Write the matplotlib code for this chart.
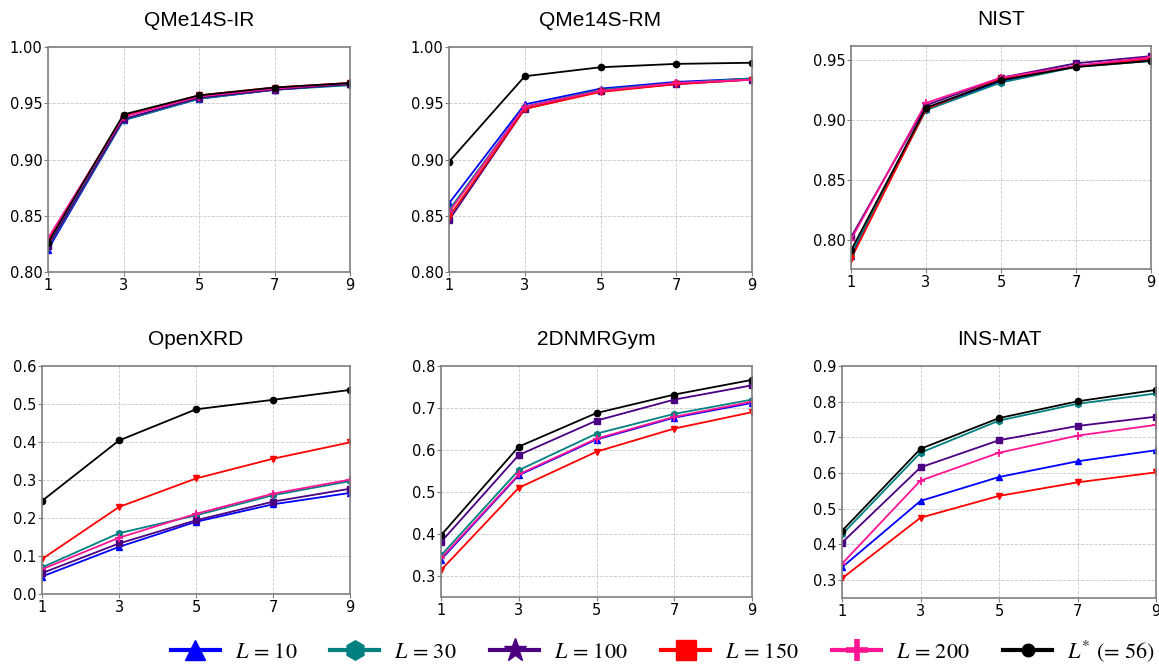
import matplotlib
matplotlib.use("Agg")
import matplotlib.pyplot as plt
from matplotlib.lines import Line2D

plt.rcParams['mathtext.fontset'] = 'stix'

x_vals = [1, 3, 5, 7, 9]
titles = ["QMe14S-IR", "QMe14S-RM", "NIST", "OpenXRD", "2DNMRGym", "INS-MAT"]
series_labels = [r"$L$ = 10", r"$L$ = 30", r"$L$ = 100", r"$L$ = 150", r"$L$ = 200", r"$L^{*}$ (= 56)"]
colors = ["#0000FF", "#008080", "#4B0082", "#FF0000", "#FF1493", "#000000"]
plot_markers = ["^", "h", "s", "v", "+", "o"]
legend_markers = ["^", "h", "*", "s", "+", "o"]

# values per dataset: [L=10, L=30, L=100, L=150, L=200, L*]
qme_ir = [
    [0.820, 0.935, 0.954, 0.962, 0.967],
    [0.822, 0.935, 0.954, 0.962, 0.966],
    [0.823, 0.936, 0.955, 0.962, 0.967],
    [0.828, 0.939, 0.957, 0.964, 0.968],
    [0.830, 0.938, 0.956, 0.963, 0.968],
    [0.826, 0.940, 0.957, 0.964, 0.968],
]
qme_rm = [
    [0.861, 0.949, 0.963, 0.969, 0.972],
    [0.855, 0.947, 0.962, 0.968, 0.972],
    [0.846, 0.945, 0.961, 0.967, 0.971],
    [0.849, 0.945, 0.960, 0.967, 0.971],
    [0.853, 0.947, 0.961, 0.968, 0.971],
    [0.898, 0.974, 0.982, 0.985, 0.986],
]
nist = [
    [0.786, 0.909, 0.932, 0.945, 0.950],
    [0.788, 0.908, 0.931, 0.944, 0.949],
    [0.802, 0.912, 0.935, 0.947, 0.953],
    [0.784, 0.909, 0.934, 0.944, 0.951],
    [0.800, 0.914, 0.935, 0.945, 0.952],
    [0.791, 0.910, 0.933, 0.944, 0.949],
]
openxrd = [
    [0.046, 0.124, 0.190, 0.236, 0.266],
    [0.070, 0.160, 0.207, 0.260, 0.297],
    [0.055, 0.133, 0.194, 0.243, 0.277],
    [0.092, 0.229, 0.304, 0.356, 0.399],
    [0.065, 0.148, 0.211, 0.264, 0.301],
    [0.245, 0.404, 0.486, 0.511, 0.537],
]
nmr2d = [
    [0.339, 0.540, 0.625, 0.677, 0.712],
    [0.349, 0.552, 0.639, 0.686, 0.720],
    [0.381, 0.588, 0.670, 0.720, 0.754],
    [0.314, 0.510, 0.596, 0.651, 0.690],
    [0.342, 0.542, 0.627, 0.679, 0.715],
    [0.397, 0.608, 0.688, 0.732, 0.767],
]
insmat = [
    [0.336, 0.522, 0.589, 0.633, 0.664],
    [0.428, 0.657, 0.747, 0.794, 0.823],
    [0.405, 0.616, 0.692, 0.732, 0.758],
    [0.305, 0.475, 0.536, 0.574, 0.602],
    [0.346, 0.579, 0.657, 0.705, 0.735],
    [0.438, 0.668, 0.754, 0.801, 0.833],
]
datasets = [qme_ir, qme_rm, nist, openxrd, nmr2d, insmat]
ylims = [(0.80, 1.00), (0.80, 1.00), None, (0.0, 0.6), (0.25, 0.8), (0.25, 0.9)]
yticks = [
    [0.80, 0.85, 0.90, 0.95, 1.00],
    [0.80, 0.85, 0.90, 0.95, 1.00],
    [0.80, 0.85, 0.90, 0.95],
    [0.0, 0.1, 0.2, 0.3, 0.4, 0.5, 0.6],
    [0.3, 0.4, 0.5, 0.6, 0.7, 0.8],
    [0.3, 0.4, 0.5, 0.6, 0.7, 0.8, 0.9],
]
yfmt = ["%.2f", "%.2f", "%.2f", "%.1f", "%.1f", "%.1f"]

W, H = 1159, 664
fig = plt.figure(figsize=(W / 100, H / 100), dpi=100)

# axes pixel boxes (left, top, right, bottom)
boxes = [
    (48, 47, 350, 272),
    (449, 47, 752, 272),
    (851, 46, 1151, 269),
    (42, 366, 350, 594),
    (441, 366, 752, 597),
    (842, 366, 1156, 598),
]

for i, (l, t, r, b) in enumerate(boxes):
    ax = fig.add_axes([l / W, 1 - b / H, (r - l) / W, (b - t) / H])
    for vals, c, m in zip(datasets[i], colors, plot_markers):
        ax.plot(x_vals, vals, color=c, marker=m, lw=1.3, ms=4.5 if m != "+" else 6,
                mew=1.3 if m == "+" else 1)
    ax.set_xlim(1, 9)
    if ylims[i] is not None:
        ax.set_ylim(*ylims[i])
    ax.set_xticks(x_vals)
    ax.set_yticks(yticks[i])
    ax.yaxis.set_major_formatter(matplotlib.ticker.FormatStrFormatter(yfmt[i]))
    ax.tick_params(labelsize=10.5, length=3, pad=1, color="#808080")
    ax.grid(True, ls="--", lw=0.6, color="#c8c8c8")
    ax.set_axisbelow(True)
    for s in ax.spines.values():
        s.set_color("#808080")
        s.set_linewidth(1.2)
    ax.set_title(titles[i], fontsize=15, family="Liberation Sans", pad=15)

handles = [Line2D([0], [0], color=c, marker=m, lw=3,
                  ms=(17 if m == "*" else 14 if m in "^hs" else 16 if m == "+" else 9),
                  mew=(4 if m == "+" else 1))
           for c, m in zip(colors, legend_markers)]
fig.legend(handles, series_labels, loc="center", bbox_to_anchor=(663 / W, 1 - 651 / H),
           ncol=6, frameon=False, prop={"family": "STIXGeneral", "size": 16},
           handlelength=2.2, handletextpad=0.68, columnspacing=1.5)

fig.savefig("out.png", dpi=100)
